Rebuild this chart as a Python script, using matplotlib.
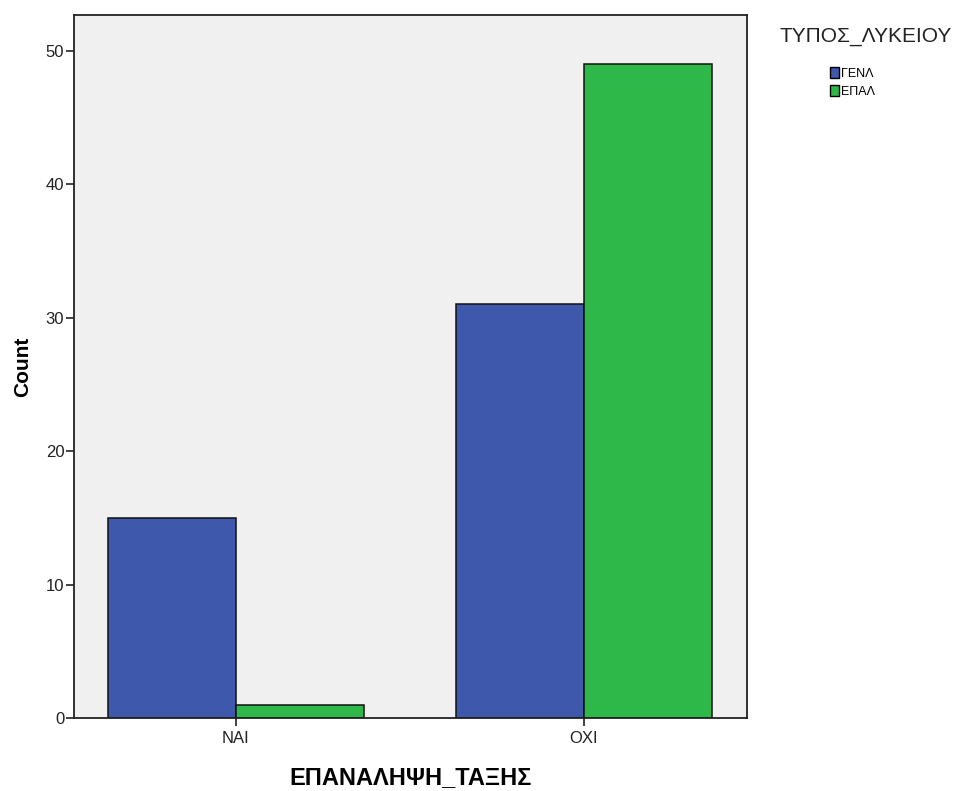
import matplotlib.pyplot as plt
import numpy as np
from matplotlib.patches import Patch

plt.rcParams['font.family'] = ['Liberation Sans', 'DejaVu Sans']

# Data
categories = ["ΝΑΙ", "ΟΧΙ"]
groups = ["ΓΕΝΛ", "ΕΠΑΛ"]
gen_counts = [15, 31]
epal_counts = [1, 49]

blue = "#3E58AC"
green = "#2EB84A"

fig = plt.figure(figsize=(9.56, 7.91), dpi=100)
ax = fig.add_axes([0.0774, 0.0923, 0.7036, 0.8887])
ax.set_facecolor("#F0F0F0")

x = np.arange(len(categories))
w = 0.368
ax.bar(x - w / 2, gen_counts, width=w, color=blue, edgecolor="#111111", linewidth=1.1)
ax.bar(x + w / 2, epal_counts, width=w, color=green, edgecolor="#111111", linewidth=1.1)

ax.set_xlim(-0.4655, 1.468)
ax.set_ylim(0, 52.7)
ax.set_yticks([0, 10, 20, 30, 40, 50])
ax.set_xticks(x)
ax.set_xticklabels(categories)
ax.tick_params(axis="both", direction="out", length=5.5, width=1.2, labelsize=12,
               colors="#222222", pad=1.5)
ax.tick_params(axis="x", pad=4)

for s in ax.spines.values():
    s.set_linewidth(1.3)
    s.set_color("#222222")

ax.set_ylabel("Count", fontsize=15, fontweight="bold", labelpad=10)
ax.set_xlabel("ΕΠΑΝΑΛΗΨΗ_ΤΑΞΗΣ", fontsize=17, fontweight="bold", labelpad=14)

# legend: title as separate text, entries below
fig.text(866 / 956, 1 - 37 / 791, "ΤΥΠΟΣ_ΛΥΚΕΙΟΥ", fontsize=15, color="#222222",
         ha="center", va="center")
handles = [Patch(facecolor=blue, edgecolor="black"), Patch(facecolor=green, edgecolor="black")]
fig.legend(handles, groups, loc="upper left", bbox_to_anchor=(830 / 956, 1 - 67 / 791),
           frameon=False, fontsize=9, borderpad=0, borderaxespad=0,
           handlelength=0.75, handleheight=1.0, handletextpad=0.15, labelspacing=0.42)

fig.savefig("out.png", dpi=100)
